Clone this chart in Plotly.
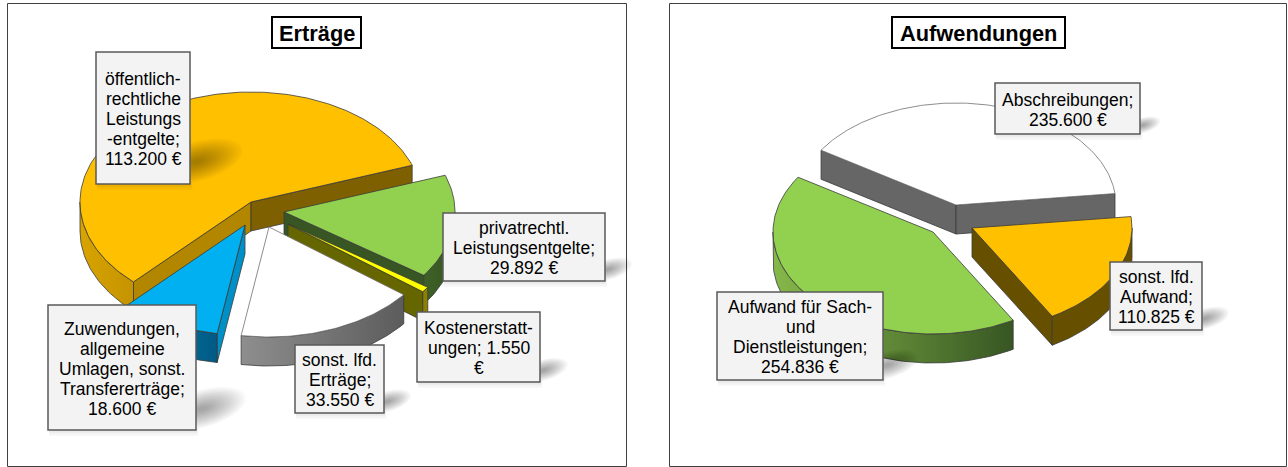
import numpy as np
import plotly.graph_objects as go

# ---- data ----
income_names = ["öffentlich-rechtliche Leistungsentgelte", "privatrechtl. Leistungsentgelte",
                "Kostenerstattungen", "sonst. lfd. Erträge",
                "Zuwendungen, allgemeine Umlagen, sonst. Transfererträge"]
income_values = [113200, 29892, 1550, 33550, 18600]
income_labels = [["öffentlich-", "rechtliche", "Leistungs", "-entgelte;", "113.200 €"],
                 ["privatrechtl.", "Leistungsentgelte;", "29.892 €"],
                 ["Kostenerstatt-", "ungen; 1.550", "€"],
                 ["sonst. lfd.", "Erträge;", "33.550 €"],
                 ["Zuwendungen,", "allgemeine", "Umlagen, sonst.", "Transfererträge;", "18.600 €"]]

expense_names = ["Abschreibungen", "sonst. lfd. Aufwand", "Aufwand für Sach- und Dienstleistungen"]
expense_values = [235600, 110825, 254836]
expense_labels = [["Abschreibungen;", "235.600 €"],
                  ["sonst. lfd.", "Aufwand;", "110.825 €"],
                  ["Aufwand für Sach-", "und", "Dienstleistungen;", "254.836 €"]]

titles = ["Erträge", "Aufwendungen"]

# ---- styles / layout ----
FONT = "Liberation Sans"
LINE = "#3a3a3a"

left_pie = dict(
    center=(263, 215), rx=171, ry=110, depth=29, first=223.4,
    offsets=[(-12, -13), (21, -3), (25, 9), (6, 12), (-18, 10)],
    top=["#FFC000", "#92D050", "#FFFF00", "#FFFFFF", "#00B0F0"],
    wall_start=["#B38600", "#375623", "#666600", "#777777", "#0090C8"],
    wall_end=["#7F6000", "#375623", "#666600", "#777777", "#0090C8"],
    rim=[("#D9A400", "#C49300"), ("#3F6027", "#375623"), ("#8C8000", "#8C8000"),
         ("#8E8E8E", "#5C5C5C"), ("#0A7FAE", "#005A85")],
    outline=[LINE, LINE, LINE, "#707070", LINE],
    boxes=[(96, 52, 190, 184), (443, 213, 605, 281), (417, 312, 540, 382),
           (295, 345, 384, 413), (48, 305, 196, 430)],
)
right_pie = dict(
    center=(950, 222), rx=160, ry=102, depth=29, first=302.5,
    offsets=[(6, -17), (22, 6), (-17, 10)],
    top=["#FFFFFF", "#FFC000", "#92D050"],
    wall_start=["#666666", "#6B5000", "#375623"],
    wall_end=["#666666", "#665000", "#375623"],
    rim=[("#666666", "#666666"), ("#665000", "#665000"), ("#86B84A", "#375623")],
    outline=["#707070", LINE, LINE],
    boxes=[(995, 83, 1140, 134), (1110, 262, 1202, 330), (717, 292, 883, 380)],
)
panels = [(7.5, 3.5, 626.5, 466.5), (669.5, 3.5, 1286.5, 466.5)]
title_boxes = [(272, 17, 361, 48), (892, 17, 1065, 48)]

fig = go.Figure()


def arc(ax, ay, rx, ry, a0, a1):
    n = max(2, int(abs(a1 - a0)) + 2)
    t = np.radians(np.linspace(a0, a1, n))
    return ax + rx * np.sin(t), ay - ry * np.cos(t)


def poly(xs, ys, fill, line, grad=None):
    kw = dict(fillcolor=fill)
    if grad:
        kw = dict(fillgradient=dict(type="horizontal",
                                    colorscale=[[0, grad[0]], [1, grad[1]]]))
    fig.add_trace(go.Scatter(x=list(xs) + [xs[0]], y=list(ys) + [ys[0]], mode="lines",
                             fill="toself", line=dict(color=line, width=0.8),
                             hoverinfo="skip", showlegend=False, **kw))


def draw_pie(values, names, p):
    total = sum(values)
    start = p["first"]
    rx, ry, d = p["rx"], p["ry"], p["depth"]
    for i, v in enumerate(values):
        end = start + 360 * v / total
        ax = p["center"][0] + p["offsets"][i][0]
        ay = p["center"][1] + p["offsets"][i][1]
        # walls
        if np.sin(np.radians(start)) < 0:
            cx, cy = arc(ax, ay, rx, ry, start, start)
            poly([ax, cx[0], cx[0], ax], [ay, cy[0], cy[0] + d, ay + d], p["wall_start"][i], LINE)
        if np.sin(np.radians(end)) > 0:
            cx, cy = arc(ax, ay, rx, ry, end, end)
            poly([ax, cx[0], cx[0], ax], [ay, cy[0], cy[0] + d, ay + d], p["wall_end"][i], LINE)
        # visible outer rim
        for lo, hi in ((90, 270), (450, 630)):
            a0, a1 = max(start, lo), min(end, hi)
            if a1 > a0:
                xs, ys = arc(ax, ay, rx, ry, a0, a1)
                poly(np.r_[xs, xs[::-1]], np.r_[ys, ys[::-1] + d], None, LINE, grad=p["rim"][i])
        # top face
        xs, ys = arc(ax, ay, rx, ry, start, end)
        poly(np.r_[ax, xs], np.r_[ay, ys], p["top"][i], p["outline"][i])
        start = end


def add_label(box, lines):
    x0, y0, x1, y1 = box
    h = y1 - y0
    # soft cast shadow
    cx, cy = x1 + 0.05 * h, y1 - 0.17 * h
    a, b = 0.36 * h, 0.15 * h
    rot = np.radians(-16)
    t = np.linspace(0, 2 * np.pi, 28, endpoint=False)
    for s in np.linspace(1.0, 0.12, 14):
        px = a * s * np.cos(t)
        py = b * s * np.sin(t)
        qx = cx + px * np.cos(rot) - py * np.sin(rot)
        qy = cy + px * np.sin(rot) + py * np.cos(rot)
        path = "M" + "L".join(f"{u:.1f},{w:.1f}" for u, w in zip(qx, qy)) + "Z"
        fig.add_shape(type="path", path=path, fillcolor="rgba(0,0,0,0.026)",
                      line_width=0, layer="above")
    for k in (1.5, 3, 4.5, 6):
        fig.add_shape(type="rect", x0=x0 + 1, x1=x1 + k * 0.4, y0=y1 - 2, y1=y1 + k,
                      fillcolor="rgba(0,0,0,0.025)", line_width=0, layer="above")
    fig.add_shape(type="rect", x0=x0, y0=y0, x1=x1, y1=y1, fillcolor="#F3F3F3",
                  line=dict(color="#595959", width=1.5), layer="above")
    ym = (y0 + y1) / 2 + 1.2
    for j, text in enumerate(lines):
        fig.add_annotation(x=(x0 + x1) / 2, y=ym + (j - (len(lines) - 1) / 2) * 20,
                           text=text, showarrow=False, xanchor="center", yanchor="middle",
                           font=dict(family=FONT, size=17.5, color="#000000"))


for (x0, y0, x1, y1) in panels:
    fig.add_shape(type="rect", x0=x0, y0=y0, x1=x1, y1=y1, fillcolor="#FFFFFF",
                  line=dict(color="#404040", width=1), layer="below")

draw_pie(income_values, income_names, left_pie)
draw_pie(expense_values, expense_names, right_pie)

for box, lines in zip(left_pie["boxes"], income_labels):
    add_label(box, lines)
for box, lines in zip(right_pie["boxes"], expense_labels):
    add_label(box, lines)

for (x0, y0, x1, y1), t in zip(title_boxes, titles):
    fig.add_shape(type="rect", x0=x0, y0=y0, x1=x1, y1=y1, fillcolor="#FFFFFF",
                  line=dict(color="#000000", width=2), layer="above")
    fig.add_annotation(x=(x0 + x1) / 2, y=(y0 + y1) / 2 + 0.5, text=f"<b>{t}</b>", showarrow=False,
                       xanchor="center", yanchor="middle",
                       font=dict(family=FONT, size=21.8, color="#000000"))

fig.update_layout(
    width=1288, height=467, margin=dict(l=0, r=0, t=0, b=0),
    paper_bgcolor="#FFFFFF", plot_bgcolor="#FFFFFF", showlegend=False,
    xaxis=dict(range=[0, 1288], visible=False, fixedrange=True),
    yaxis=dict(range=[467, 0], visible=False, fixedrange=True),
)
fig.write_html("out.html", config=dict(displayModeBar=False),
               post_script="document.body.style.margin='0';document.body.style.overflow='hidden';")
